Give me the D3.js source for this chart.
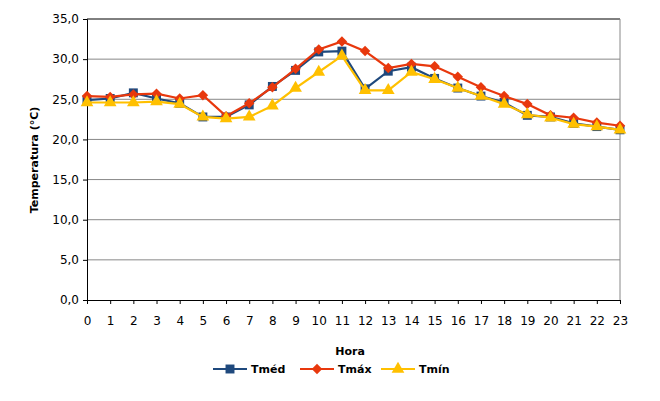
<!DOCTYPE html>
<html><head><meta charset="utf-8">
<script src="https://cdn.jsdelivr.net/npm/d3@7"></script>
<style>body{margin:0;background:#fff}text{font-family:"DejaVu Sans",Verdana,sans-serif}</style>
</head><body>
<script>
var hours = d3.range(0, 24);
var tmed = [24.9,25.1,25.8,25.1,24.5,22.8,22.8,24.3,26.6,28.6,30.9,31.0,26.3,28.5,29.0,27.6,26.4,25.4,24.6,23.0,22.8,22.0,21.6,21.2];
var tmax = [25.4,25.3,25.6,25.7,25.1,25.5,22.9,24.5,26.5,28.8,31.2,32.2,31.0,28.9,29.4,29.1,27.8,26.5,25.4,24.4,23.0,22.7,22.1,21.7];
var tmin = [24.6,24.6,24.6,24.7,24.4,22.8,22.6,22.8,24.2,26.4,28.4,30.4,26.1,26.1,28.4,27.5,26.4,25.4,24.4,23.1,22.7,21.9,21.6,21.2];
var yTicks = [0,5,10,15,20,25,30,35];

var svg = d3.select("body").append("svg").attr("width", 660).attr("height", 401);
var x = d3.scaleLinear().domain([0, 23]).range([87, 620]);
var y = d3.scaleLinear().domain([0, 35]).range([300, 19]);

// grid
svg.append("g").selectAll("line").data(yTicks.slice(1)).join("line")
  .attr("x1", 87).attr("x2", 620).attr("y1", d => y(d)).attr("y2", d => y(d))
  .attr("stroke", d => d == 35 ? "#000" : "#888").attr("stroke-width", 1);
svg.append("line").attr("x1", 620).attr("x2", 620).attr("y1", 19).attr("y2", 300).attr("stroke", "#888");

var ya = svg.append("g").attr("transform", "translate(87,0)")
  .call(d3.axisLeft(y).tickValues(yTicks).tickSize(4).tickPadding(4).tickFormat(d => d.toFixed(1).replace(".", ",")));
var xa = svg.append("g").attr("transform", "translate(0,300)")
  .call(d3.axisBottom(x).tickValues(hours).tickSize(4).tickPadding(12).tickFormat(d => d));
[ya, xa].forEach(function(a) {
  a.selectAll("path,line").attr("stroke", "#000");
  a.selectAll("text").attr("font-size", 12).attr("fill", "#000");
});

svg.append("text").attr("transform", "translate(38,160) rotate(-90)").attr("text-anchor", "middle")
  .attr("font-size", 11).attr("font-weight", "bold").text("Temperatura (°C)");
svg.append("text").attr("x", 350).attr("y", 355).attr("text-anchor", "middle")
  .attr("font-size", 11).attr("font-weight", "bold").text("Hora");

var series = [
  {name: "Tméd", values: tmed, color: "#1F497D", sym: d3.symbolSquare, size: 80, rot: 0},
  {name: "Tmáx", values: tmax, color: "#E8380D", sym: d3.symbolSquare, size: 55, rot: 45},
  {name: "Tmín", values: tmin, color: "#FFC000", sym: d3.symbolTriangle, size: 70, rot: 0}
];
var line = d3.line().x((d, i) => x(i)).y(d => y(d));
series.forEach(function(s) {
  svg.append("path").attr("d", line(s.values)).attr("fill", "none").attr("stroke", s.color).attr("stroke-width", 2.2);
  svg.append("g").selectAll("path").data(s.values).join("path")
    .attr("transform", (d, i) => "translate(" + x(i) + "," + y(d) + ") rotate(" + s.rot + ")")
    .attr("d", d3.symbol().type(s.sym).size(s.size)).attr("fill", s.color);
});

// legend
var lx = [213, 300, 381];
series.forEach(function(s, i) {
  var g = svg.append("g").attr("transform", "translate(" + lx[i] + ",369)");
  g.append("line").attr("x1", 0).attr("x2", 34).attr("stroke", s.color).attr("stroke-width", 2.2);
  g.append("path").attr("transform", "translate(17,0) rotate(" + s.rot + ")").attr("d", d3.symbol().type(s.sym).size(s.size)).attr("fill", s.color);
  g.append("text").attr("x", 38).attr("y", 4).attr("font-size", 11).attr("font-weight", "bold").text(s.name);
});
</script>
</body></html>
